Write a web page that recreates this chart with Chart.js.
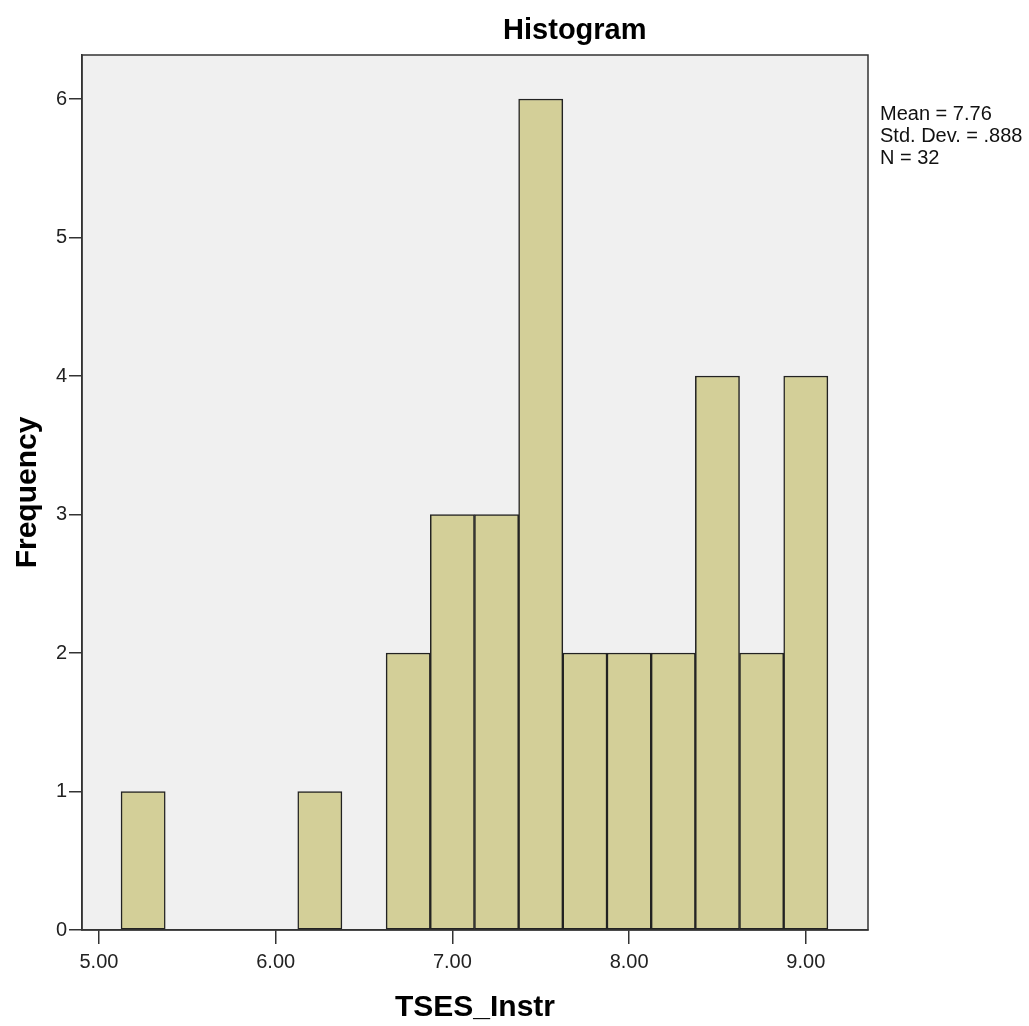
<!DOCTYPE html>
<html>
<head>
<meta charset="utf-8">
<script src="https://cdn.jsdelivr.net/npm/chart.js@4/dist/chart.umd.min.js"></script>
<style>
  html, body { margin: 0; padding: 0; background: #fff; }
  #wrap { width: 1029px; height: 1026px; }
</style>
</head>
<body>
<div id="wrap"><canvas id="hist"></canvas></div>
<script>
// histogram bins (width .25), centre of each bin and its count
var binCenters = [5.25, 6.25, 6.75, 7.00, 7.25, 7.50, 7.75, 8.00, 8.25, 8.50, 8.75, 9.00];
var frequencies = [1, 1, 2, 3, 3, 6, 2, 2, 2, 4, 2, 4];
var xTicks = [5, 6, 7, 8, 9];
var yTicks = [0, 1, 2, 3, 4, 5, 6];
var statLines = ['Mean = 7.76', 'Std. Dev. = .888', 'N = 32'];
var chartTitle = 'Histogram';
var xTitle = 'TSES_Instr';
var yTitle = 'Frequency';

var FONT = "'Liberation Sans', Arial, sans-serif";

/** Grey plot background, frame, title and the stats box */
var spssDecor = {
  id: 'spssDecor',
  beforeDraw: function(chart) {
    var a = chart.chartArea, ctx = chart.ctx;
    ctx.save();
    ctx.fillStyle = '#f0f0f0';
    ctx.fillRect(a.left, a.top, a.right - a.left, a.bottom - a.top);
    ctx.restore();
  },
  afterDraw: function(chart) {
    var a = chart.chartArea, ctx = chart.ctx;
    ctx.save();
    ctx.strokeStyle = '#333';
    ctx.lineWidth = 1.5;
    ctx.strokeRect(a.left, a.top, a.right - a.left, a.bottom - a.top);

    ctx.fillStyle = '#000';
    ctx.font = 'bold 29px ' + FONT;
    ctx.textAlign = 'center';
    ctx.textBaseline = 'alphabetic';
    ctx.fillText(chartTitle, a.left + (a.right - a.left) * 0.627, 39);

    ctx.font = '20px ' + FONT;
    ctx.textAlign = 'left';
    ctx.fillStyle = '#111';
    statLines.forEach(function(t, i) {
      ctx.fillText(t, a.right + 12, 120 + i * 22);
    });
    ctx.restore();
  }
};

var data = binCenters.map(function(c, i) { return {x: c, y: frequencies[i]}; });

var ctx = document.getElementById('hist').getContext('2d');
window.chart = new Chart(ctx, {
  type: 'bar',
  data: {
    datasets: [{
      label: 'Frequency',
      data: data,
      backgroundColor: '#d3cf98',
      borderColor: '#222',
      borderWidth: 1.5,
      borderSkipped: false,
      barPercentage: 1,
      categoryPercentage: 1,
      grouped: false
    }]
  },
  options: {
    responsive: true,
    maintainAspectRatio: false,
    animation: false,
    layout: { padding: { top: 55, right: 161, left: 0, bottom: 0 } },
    plugins: {
      legend: { display: false },
      tooltip: { enabled: false },
      title: { display: false }
    },
    scales: {
      x: {
        type: 'linear',
        min: 4.904,
        max: 9.352,
        offset: false,
        afterBuildTicks: function(scale) {
          scale.ticks = xTicks.map(function(v) { return {value: v}; });
        },
        afterFit: function(scale) { scale.height = 96; },
        grid: { display: true, drawOnChartArea: false, offset: false, tickLength: 14, color: '#333', lineWidth: 1.5 },
        border: { display: true, color: '#333', width: 1.5 },
        ticks: {
          color: '#222',
          font: { family: FONT, size: 20 },
          padding: 6,
          maxRotation: 0,
          autoSkip: false,
          callback: function(v) { return Number(v).toFixed(2); }
        },
        title: {
          display: true,
          text: xTitle,
          color: '#000',
          font: { family: FONT, size: 30, weight: 'bold' },
          padding: { top: 0, bottom: 0 }
        }
      },
      y: {
        type: 'linear',
        min: 0,
        max: 6.318,
        afterBuildTicks: function(scale) {
          scale.ticks = yTicks.map(function(v) { return {value: v}; });
        },
        afterFit: function(scale) { scale.width = 82; },
        grid: { display: true, drawOnChartArea: false, tickLength: 13, color: '#333', lineWidth: 1.5 },
        border: { display: true, color: '#333', width: 1.5 },
        ticks: {
          color: '#222',
          font: { family: FONT, size: 20 },
          padding: 2,
          autoSkip: false,
          callback: function(v) { return String(v); }
        },
        title: {
          display: true,
          text: yTitle,
          color: '#000',
          font: { family: FONT, size: 30, weight: 'bold' },
          padding: { top: 10, bottom: 0 }
        }
      }
    }
  },
  plugins: [spssDecor]
});
</script>
</body>
</html>
